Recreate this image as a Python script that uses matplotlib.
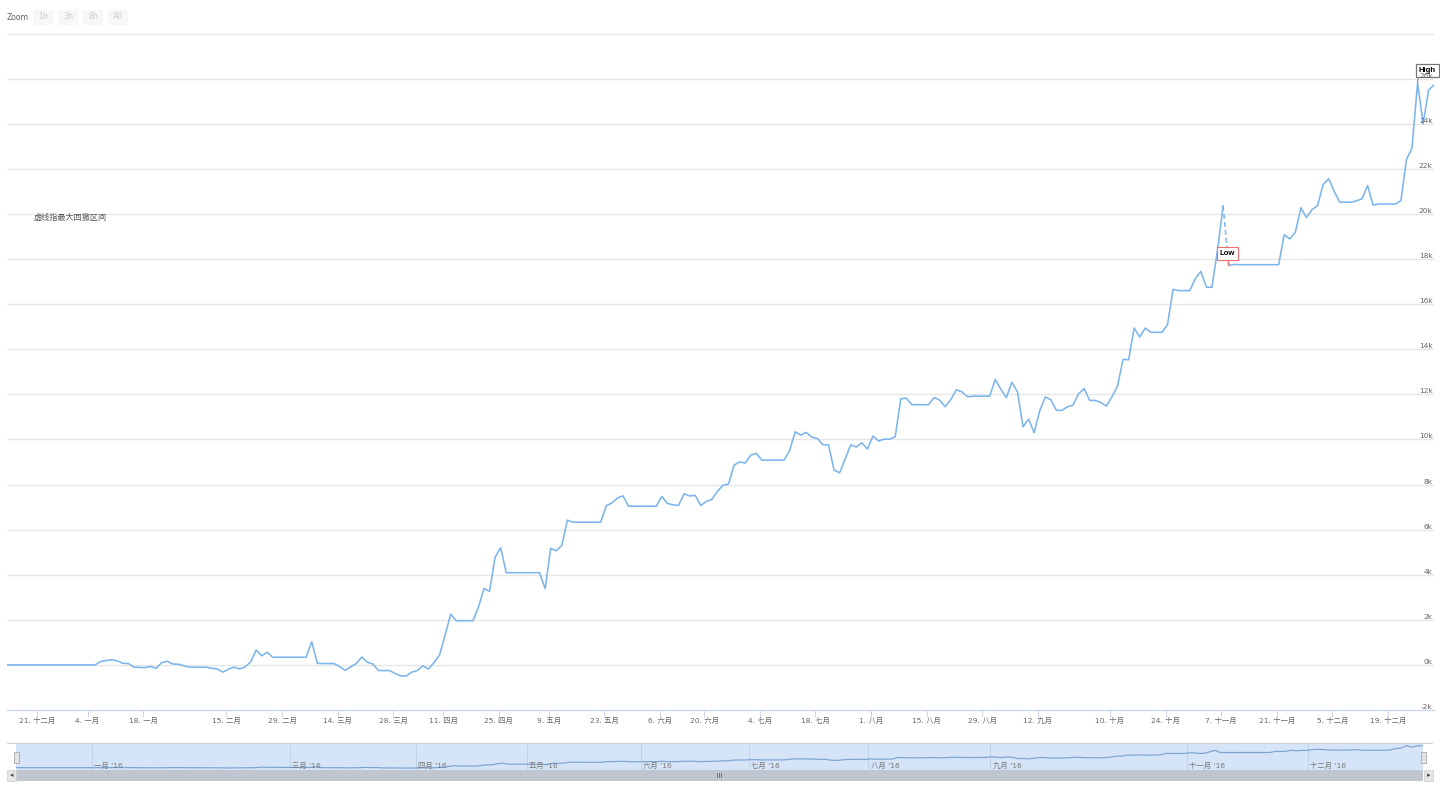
import numpy as np
import matplotlib
matplotlib.use('Agg')
import matplotlib.pyplot as plt
from matplotlib.patches import Rectangle

plt.rcParams['font.family'] = ['DejaVu Sans', 'Noto Sans CJK SC']

# values, one per trading day
values = [
    0, 0, 0, 0, 0, 0, 0, 0, 0, 0, 0, 0, 0, 0, 0, 0, 0,
    150, 190, 230, 180, 70, 60, -100, -110, -120, -70, -150, 100, 160, 40, 30, -40,
    -100, -100, -100, -100, -150, -180, -320, -190, -100, -180, -90, 130, 660, 400, 560,
    340, 340, 340, 340, 340, 340, 340, 1030, 70, 60, 60, 60, -70, -240, -90, 60, 350,
    120, 40, -250, -250, -250, -380, -490, -490, -320, -250, -40, -180, 100, 440, 1320,
    2250, 1960, 1960, 1960, 1960, 2560, 3390, 3260, 4780, 5200,
    4090, 4090, 4090, 4090, 4090, 4090, 4090, 3380, 5170, 5060, 5300, 6420,
    6330, 6330, 6330, 6330, 6330, 6330, 7060, 7180, 7400, 7500,
    7040, 7040, 7040, 7040, 7040, 7040, 7470, 7160, 7100, 7070, 7590, 7490, 7520, 7070,
    7250, 7340, 7690, 7970, 8020, 8860, 9000, 8950, 9300, 9380,
    9080, 9080, 9080, 9080, 9080, 9510, 10340, 10190, 10310, 10100, 10040, 9760, 9760,
    8640, 8520, 9140, 9760, 9660, 9850, 9570, 10150, 9930, 10010, 10010, 10120,
    11800, 11830, 11540, 11540, 11540, 11540, 11860, 11740, 11450, 11770, 12200, 12110,
    11890, 11920, 11920, 11920, 11920, 12660, 12230, 11850, 12540, 12110, 10560, 10900,
    10300, 11270, 11880, 11760, 11290, 11290, 11450, 11520, 12030, 12250, 11730, 11730,
    11640, 11480, 11890, 12370, 13550, 13530, 14940, 14540, 14940, 14750, 14750, 14750,
    15090, 16650, 16600, 16600, 16600, 17130, 17450, 16750, 16750, 18400, 20350,
    17720, 17760, 17750, 17750, 17750, 17750, 17750, 17750, 17750, 17750,
    19080, 18890, 19190, 20270, 19840, 20190, 20370, 21300, 21560, 21000,
    20520, 20520, 20520, 20580, 20670, 21260, 20390, 20440, 20440, 20440, 20440, 20590,
    22410, 22930, 25820, 24000, 25500, 25730,
]
y_ticks = [-2000, 0, 2000, 4000, 6000, 8000, 10000, 12000, 14000, 16000, 18000, 20000,
           22000, 24000, 26000, 28000]
y_labels = ['-2k', '0k', '2k', '4k', '6k', '8k', '10k', '12k', '14k', '16k', '18k', '20k',
            '22k', '24k', '26k', '']
x_tick_days = [6, 15, 25, 40, 50, 60, 70, 79, 89, 98, 108, 118, 126, 136, 146, 156, 166,
               176, 186, 199, 209, 219, 229, 239, 249]
x_tick_labels = ['21. 十二月', '4. 一月', '18. 一月', '15. 二月', '29. 二月', '14. 三月',
                 '28. 三月', '11. 四月', '25. 四月', '9. 五月', '23. 五月', '6. 六月',
                 '20. 六月', '4. 七月', '18. 七月', '1. 八月', '15. 八月', '29. 八月',
                 '12. 九月', '10. 十月', '24. 十月', '7. 十一月', '21. 十一月',
                 '5. 十二月', '19. 十二月']
nav_months = ["一月 '16", "三月 '16", "四月 '16", "五月 '16", "六月 '16", "七月 '16",
              "八月 '16", "九月 '16", "十一月 '16", "十二月 '16"]
nav_month_days = [13.9, 50.0, 73.0, 93.3, 114.1, 133.9, 155.7, 178.0, 213.9, 236.0]
range_buttons = ['1h', '3h', '8h', 'All']

W, H = 1440, 791
LINE = '#7cb5ec'
AXIS = '#ccd6eb'
days = np.arange(len(values))
values = np.array(values)
peak = int(np.argmax(values[:225]))  # start of the largest drawdown
low = peak + 1


def px_axes(left, top, right, bottom):
    return fig.add_axes([left / W, 1 - bottom / H, (right - left) / W, (bottom - top) / H])


def px_rect(left, top, right, bottom, **kw):
    fig.add_artist(Rectangle((left / W, 1 - bottom / H), (right - left) / W, (bottom - top) / H,
                             transform=fig.transFigure, **kw))


def px_text(x, y, s, **kw):
    fig.text(x / W, 1 - y / H, s, va='center', **kw)


fig = plt.figure(figsize=(W / 100, H / 100), dpi=100)

# main chart
ax = px_axes(7, 11, 1434, 710)
ax.patch.set_visible(False)
ax.set_xlim((7 - 6.1) / 5.557, (1434 - 6.1) / 5.557)
ax.set_ylim(-2000, 29000)
ax.hlines(y_ticks[1:], *ax.get_xlim(), color='#e6e6e6', lw=0.95, zorder=1)
ax.plot(days[:peak + 1], values[:peak + 1], color=LINE, lw=1.15, zorder=2)
ax.plot(days[peak:low + 1], values[peak:low + 1], color=LINE, lw=1.15, ls=(0, (3, 2)), zorder=2)
ax.plot(days[low:], values[low:], color=LINE, lw=1.15, zorder=2)

for s in ['top', 'left', 'right']:
    ax.spines[s].set_visible(False)
ax.spines['bottom'].set_color(AXIS)
ax.spines['bottom'].set_linewidth(0.9)
ax.set_axisbelow(False)

ax.set_xticks(np.array(x_tick_days) - 0.35)
ax.set_xticklabels(x_tick_labels)
ax.tick_params(axis='x', length=5, width=0.7, color=AXIS, pad=0, labelsize=5.3, labelcolor='#666666')
ax.yaxis.tick_right()
ax.set_yticks(y_ticks)
ax.set_yticklabels(y_labels)
ax.tick_params(axis='y', length=0, pad=-1, labelsize=5.3, labelcolor='#666666')
for lbl in ax.get_yticklabels():
    lbl.set_ha('right')
    lbl.set_va('bottom')

# flags on the drawdown
ax.annotate('Low', xy=(low, values[low]), xytext=(-0.8, 8.4), textcoords='offset points',
            ha='center', va='center', fontsize=5.6, fontweight='bold', color='black',
            family='Liberation Sans', zorder=2.2,
            bbox=dict(boxstyle='square,pad=0.4', fc='white', ec='#f26d6d', lw=0.8),
            arrowprops=dict(arrowstyle='-', color='#f26d6d', lw=0.7, shrinkA=0, shrinkB=0))
ax.annotate('High', xy=(254, values[254]), xytext=(7, 8.5), textcoords='offset points',
            ha='center', va='center', fontsize=5.6, fontweight='bold', color='black',
            family='Liberation Sans', zorder=2.2,
            bbox=dict(boxstyle='square,pad=0.38', fc='white', ec='#777777', lw=0.9),
            arrowprops=dict(arrowstyle='-', color='#777777', lw=0.7, shrinkA=0, shrinkB=0,
                            relpos=(0, 0)))

px_text(34, 217.5, '虚线指最大回撤区间', fontsize=5.85, color='#555555')

# range selector
px_text(6.5, 17, 'Zoom', fontsize=5.6, color='#666666')
for left, name in zip([33, 58, 83, 108], range_buttons):
    px_rect(left, 10, left + 20, 25, fc='#f7f7f7', ec='none')
    px_text(left + 10, 16.5, name, fontsize=5.8, color='#cccccc', ha='center')

# navigator
nav = px_axes(16, 744, 1423, 770)
nav.set_facecolor('#d5e4f6')
nav.set_xlim(0, len(values) - 1)
nav.set_ylim(-2700, 27700)
nav.vlines(nav_month_days, -2700, 27700, color='#c3d3e6', lw=0.7, zorder=1)
nav.plot(days, values, color='#7ca3d4', lw=0.85, zorder=2)
for d, name in zip(nav_month_days, nav_months):
    nav.text(d + 0.4, 3000, name, fontsize=5.3, color='#777777', va='center', ha='left', zorder=3)
nav.set_xticks([])
nav.set_yticks([])
for s in nav.spines.values():
    s.set_visible(False)

# outline above the navigator, scrollbar and handles
px_rect(7, 743, 1433, 744, fc='#cfcfcf', ec='none')
px_rect(16, 770, 1423, 781, fc='#bfc6cf', ec='none')
px_rect(7, 770, 16, 781, fc='#e6e6e6', ec='#cccccc', lw=0.5)
px_rect(1424, 770, 1433, 781, fc='#e6e6e6', ec='#cccccc', lw=0.5)
px_text(11.5, 775.5, '◂', fontsize=5, color='#444444', ha='center')
px_text(1428.5, 775.5, '▸', fontsize=5, color='#444444', ha='center')
for grip_x in [717, 719, 721]:
    px_rect(grip_x, 773, grip_x + 1, 778, fc='#777777', ec='none')
px_rect(13.5, 752, 18.5, 763, fc='#e4e4e4', ec='#aaaaaa', lw=0.6)
px_rect(1421, 752, 1426, 763, fc='#e4e4e4', ec='#aaaaaa', lw=0.6)

fig.savefig('out.png', dpi=100)
